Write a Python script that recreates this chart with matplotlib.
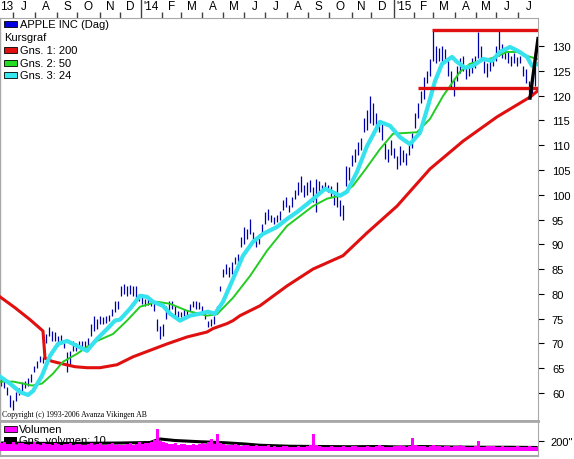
import numpy as np
import matplotlib
matplotlib.use("Agg")
import matplotlib.pyplot as plt
from matplotlib.patches import Rectangle
from matplotlib.transforms import Affine2D

# ---- data (x = trading day index, 1 px per day) ----
step = 3
price_lo = [61.5, 61.0, 59.5, 57.2, 56.5, 58.4, 59.5, 60.2, 61.0, 61.5,
            62.3, 64.3, 65.0, 66.3, 66.0, 70.0, 71.5, 70.5, 70.5, 69.5,
            70.0, 69.0, 64.3, 65.5, 68.5, 68.5, 69.0, 68.9, 69.0, 69.5,
            71.5, 72.5, 73.0, 74.0, 74.0, 74.2, 74.5, 75.5, 76.4, 77.0,
            79.6, 80.0, 79.6, 80.0, 79.6, 79.0, 78.5, 78.0, 77.6, 77.8,
            77.6, 76.5, 72.5, 70.9, 71.5, 75.0, 76.5, 77.0, 75.5, 75.0,
            75.4, 75.5, 75.4, 76.5, 77.4, 77.0, 77.0, 76.0, 75.0, 73.3,
            73.5, 74.0, 76.0, 80.6, 83.4, 84.0, 83.5, 84.0, 86.0, 86.5,
            89.5, 90.0, 91.0, 92.0, 90.5, 89.5, 90.0, 92.0, 94.1, 95.0,
            94.5, 94.1, 94.5, 95.0, 97.0, 97.5, 96.5, 97.5, 99.2, 100.0,
            100.5, 99.5, 100.0, 100.5, 98.5, 96.5, 100.6, 100.6, 101.0, 100.6,
            99.5, 98.0, 97.5, 95.7, 95.0, 101.8, 103.0, 105.8, 106.5, 108.0,
            109.0, 112.7, 113.0, 114.5, 114.0, 113.0, 112.7, 111.0, 107.2, 106.6,
            108.0, 107.5, 105.2, 106.0, 106.5, 106.0, 108.0, 109.5, 113.5, 115.5,
            118.5, 119.3, 122.5, 124.0, 127.0, 126.5, 127.0, 126.5, 127.0, 124.0,
            121.5, 120.0, 123.0, 124.5, 125.0, 123.3, 124.0, 124.5, 125.5, 127.5,
            127.0, 124.5, 123.8, 125.0, 126.0, 127.0, 128.0, 127.5, 127.4, 126.5,
            126.0, 126.5, 126.0, 126.5, 124.0, 122.5, 120.7, 120.0, 122.0, 126.0]
price_hi = [63.0, 62.5, 61.3, 59.5, 58.5, 60.2, 61.0, 62.3, 62.5, 63.0,
            63.8, 65.5, 66.5, 67.5, 67.2, 72.0, 73.3, 72.5, 72.3, 71.5,
            71.8, 70.5, 68.3, 68.5, 70.5, 70.0, 70.5, 70.5, 70.5, 71.0,
            74.0, 75.6, 75.0, 75.6, 75.3, 75.6, 75.8, 77.0, 78.6, 78.5,
            81.5, 82.0, 81.5, 81.8, 81.6, 81.6, 80.0, 80.0, 79.0, 79.5,
            79.0, 78.5, 75.0, 73.5, 74.0, 77.5, 78.6, 78.5, 77.5, 76.5,
            76.4, 77.0, 76.8, 78.0, 78.6, 78.5, 78.3, 77.5, 76.5, 74.6,
            75.0, 75.5, 77.5, 81.6, 85.0, 86.0, 85.5, 86.4, 87.5, 88.0,
            91.5, 93.5, 93.0, 95.1, 92.5, 91.0, 92.0, 94.0, 96.5, 97.1,
            96.0, 95.5, 96.0, 96.8, 99.0, 99.6, 98.0, 99.5, 101.0, 102.5,
            103.8, 102.0, 102.5, 103.0, 101.5, 103.2, 102.8, 102.0, 102.5, 102.0,
            101.8, 100.5, 102.6, 99.0, 98.0, 105.8, 105.5, 108.0, 109.2, 110.6,
            111.5, 115.5, 117.0, 119.9, 118.5, 116.5, 115.0, 114.7, 110.5, 109.2,
            111.0, 109.5, 107.8, 109.8, 109.0, 108.5, 110.0, 112.5, 116.5, 118.5,
            121.0, 123.8, 125.0, 127.4, 133.0, 130.0, 129.5, 130.0, 129.4, 127.5,
            125.0, 123.5, 126.0, 127.5, 128.0, 126.0, 126.5, 127.5, 128.0, 132.8,
            130.0, 127.0, 126.5, 127.0, 128.0, 130.0, 133.0, 130.5, 129.0, 129.0,
            128.0, 128.5, 127.8, 128.0, 126.0, 125.4, 123.0, 122.5, 126.0, 131.0]

ma200_x = [0, 15, 30, 43, 45, 52, 62, 75, 87, 100, 117, 133, 150, 167, 187, 207,
           213, 227, 233, 240, 260, 287, 313, 343, 367, 397, 430, 463, 497, 530, 538]
ma200_y = [79.4, 77.2, 74.8, 72.5, 67.0, 66.4, 65.9, 65.3, 65.1, 65.1, 65.7, 67.3, 68.6, 69.9, 71.3, 72.3,
           73.0, 74.0, 74.6, 75.6, 77.6, 81.6, 85.0, 87.7, 92.3, 97.7, 105.2, 110.8, 115.7, 119.7, 121.0]

ma50_x = [0, 13, 23, 32, 42, 53, 63, 77, 87, 97, 113, 127, 140, 157, 170, 187, 207, 217,
          233, 250, 267, 287, 300, 313, 327, 340, 353, 365, 380, 393, 417, 430, 443, 460,
          470, 480, 493, 507, 517, 527, 537]
ma50_y = [62.3, 62.3, 61.9, 61.5, 61.9, 63.9, 66.3, 67.9, 69.3, 70.5, 71.9, 74.6, 77.4, 78.4, 78.0, 76.6, 75.6, 75.9,
          79.2, 83.6, 88.7, 93.7, 95.7, 97.7, 99.2, 99.8, 101.8, 105.0, 109.2, 112.3, 112.6, 115.3, 119.9, 124.8,
          126.4, 127.0, 127.6, 128.8, 128.8, 128.0, 127.4]

ma24_x = [0, 10, 20, 28, 33, 42, 50, 58, 67, 77, 87, 97, 107, 115, 120, 130, 140, 147, 153, 163,
          170, 180, 190, 200, 208, 215, 223, 233, 243, 253, 263, 277, 287, 297, 307, 317, 325,
          332, 340, 347, 357, 367, 380, 390, 400, 410, 420, 428, 435, 442, 452, 457, 465, 473,
          483, 492, 500, 510, 518, 527, 532, 537]
ma24_y = [63.3, 61.9, 60.2, 59.6, 60.4, 63.5, 67.5, 69.9, 70.5, 69.5, 68.5, 70.9, 72.9, 74.6, 74.8, 77.0, 79.6, 79.4, 78.4, 77.6,
          76.0, 74.6, 75.6, 76.0, 76.4, 76.0, 78.4, 83.0, 87.7, 90.5, 92.1, 93.5, 95.1, 96.5, 98.1, 99.8, 101.2,
          100.6, 99.8, 100.6, 104.6, 109.8, 114.7, 113.9, 111.6, 110.2, 112.5, 117.9, 122.9, 126.4, 127.8, 126.8, 125.6, 126.0,
          127.4, 127.0, 128.8, 129.8, 129.0, 127.8, 126.0, 126.3]

# support / resistance lines (x_start, level)
resist = (432, 133.2)
support = (418, 121.5)
last_move_x = [530, 538]
last_move_y = [119.5, 131.5]

# volume in millions, every 3 days
volume = [160, 190, 150, 140, 180, 130, 160, 170, 140, 130,
          150, 180, 140, 130, 170, 150, 140, 130, 160, 140,
          130, 150, 140, 170, 130, 140, 150, 130, 120, 140,
          160, 130, 140, 170, 130, 120, 140, 160, 130, 140,
          130, 120, 150, 160, 130, 140, 180, 150, 170, 160,
          190, 230, 440, 210, 180, 160, 150, 140, 160, 130,
          150, 140, 130, 120, 140, 130, 150, 160, 140, 180,
          250, 150, 340, 170, 140, 130, 120, 130, 140, 120,
          110, 120, 130, 110, 100, 120, 110, 100, 110, 120,
          90, 100, 80, 90, 100, 110, 90, 80, 90, 100,
          80, 90, 110, 120, 340, 130, 100, 90, 80, 90,
          100, 90, 80, 90, 100, 80, 90, 110, 100, 90,
          80, 90, 100, 80, 90, 110, 120, 100, 90, 80,
          90, 100, 110, 130, 100, 90, 110, 260, 120, 110,
          100, 110, 90, 100, 120, 110, 100, 90, 110, 100,
          90, 100, 110, 120, 100, 90, 80, 90, 100, 200,
          90, 80, 100, 110, 110, 90, 80, 100, 90, 80,
          90, 80, 100, 90, 80, 90, 100, 80, 90, 100]
volma_x = [0, 30, 60, 90, 120, 150, 160, 175, 200, 225, 245, 260, 290, 320, 350, 380, 400, 420, 450, 480, 510, 537]
volma_y = [160, 155, 150, 155, 160, 170, 240, 210, 185, 165, 140, 115, 95, 90, 85, 90, 80, 90, 80, 75, 75, 70]

# month starts (trading day index) and labels
month_pos = [13, 35, 57, 77, 100, 120, 141, 162, 181, 202, 223, 244, 265, 287,
             308, 329, 352, 371, 394, 414, 433, 455, 476, 496, 518, 539]
month_lab = ["J", "A", "S", "O", "N", "D", "'14", "F", "M", "A", "M", "J", "J",
             "A", "S", "O", "N", "D", "'15", "F", "M", "A", "M", "J", "J"]
year_pos = [141, 394]

# ---- figure ----
W, H = 574, 460
fig = plt.figure(figsize=(W / 100, H / 100), dpi=100)
plt.rcParams['font.family'] = ['Liberation Sans', 'DejaVu Sans']
px = Affine2D().scale(1, -1).translate(0, H)   # pixel coords, origin top-left

grey = '#a8a8a8'
ax = fig.add_axes([0, 1 - 422 / H, 538 / W, (422 - 19) / H])
axv = fig.add_axes([0, 1 - 457 / H, 538 / W, 35 / H])

ax.set_xlim(0, 538)
ax.set_ylim(54.35, 135.65)
axv.set_xlim(0, 538)
axv.set_ylim(-100, 600)

xs = np.arange(len(price_lo)) * step + 1
ax.vlines(xs, price_lo, price_hi, color='#0000aa', lw=0.9, zorder=2)
ax.plot(ma200_x, ma200_y, color='#e01010', lw=2.2, zorder=3)
ax.plot(ma50_x, ma50_y, color='#22cc22', lw=1.4, zorder=4)
ax.plot(ma24_x, ma24_y, color='#35e2ee', lw=3.0, zorder=5)
ax.hlines([resist[1], support[1]], [resist[0], support[0]], 538, color='#e01010', lw=2.4, zorder=6)
ax.plot(last_move_x, last_move_y, color='black', lw=2.4, zorder=7)

# volume panel
vxs = np.arange(len(volume)) * step + 1.5
axv.plot(volma_x, volma_y, color='black', lw=2.2, zorder=2)
axv.bar(vxs, volume, width=step, color='#ff00ff', lw=0, zorder=3)

for a in (ax, axv):
    for s in a.spines.values():
        s.set_color(grey)
    a.spines['left'].set_linewidth(1.0)
ax.spines['bottom'].set_linewidth(2.0)
axv.spines['top'].set_linewidth(2.0)
axv.spines['bottom'].set_linewidth(1.5)

# right value axis
ax.yaxis.tick_right()
ax.set_yticks(np.arange(60, 131, 5))
ax.tick_params(axis='y', length=4, width=0.8, pad=6, labelsize=8, colors='black')
axv.yaxis.tick_right()
axv.set_yticks([200])
axv.set_yticklabels(['200"'])
axv.tick_params(axis='y', length=4, width=0.8, pad=5, labelsize=8)
axv.set_xticks([])

# top time axis
ax.xaxis.tick_top()
ax.set_xticks(year_pos)
ax.set_xticklabels([])
ax.set_xticks([p for p in month_pos[:-1] if p not in year_pos], minor=True)
ax.tick_params(axis='x', which='major', length=16, width=1.0, color='#404040')
ax.tick_params(axis='x', which='minor', length=4, width=1.0, color='#404040')
for i, lab in enumerate(month_lab):
    c = (month_pos[i] + month_pos[i + 1]) / 2
    fig.text(c, 7, lab, transform=px, ha='center', va='center', fontsize=8.5)
fig.text(0, 7, "13", transform=px, ha='left', va='center', fontsize=8.5)

# legend, main panel
leg = [('#0000e0', "APPLE INC (Dag)", 25), (None, "Kursgraf", 38),
       ('#e01010', "Gns. 1: 200", 51), ('#22dd22', "Gns. 2: 50", 64),
       ('#35e8f0', "Gns. 3: 24", 76)]
for col, txt, y in leg:
    if col:
        fig.patches.append(Rectangle((4, y - 3), 13, 6, transform=px, facecolor=col,
                                     edgecolor='black', lw=0.6))
        fig.text(20, y, txt, transform=px, ha='left', va='center', fontsize=8)
    else:
        fig.text(4, y, txt, transform=px, ha='left', va='center', fontsize=8)

fig.text(2, 415, "Copyright (c) 1993-2006 Avanza Vikingen AB", transform=px,
         ha='left', va='center', fontsize=5.6, family='Liberation Serif')

# legend, volume panel (under the bars)
axv.add_patch(Rectangle((4, 427), 13, 6, transform=px, facecolor='#ff00ff',
                        edgecolor='black', lw=0.6, zorder=1, clip_on=False))
axv.text(19, 430, "Volumen", transform=px, ha='left', va='center', fontsize=8, zorder=1)
axv.add_patch(Rectangle((4, 438), 13, 6, transform=px, facecolor='black', lw=0, zorder=1, clip_on=False))
axv.text(19, 441, "Gns. volymen: 10", transform=px, ha='left', va='center', fontsize=8, zorder=1)

fig.savefig('out.png', dpi=100)
